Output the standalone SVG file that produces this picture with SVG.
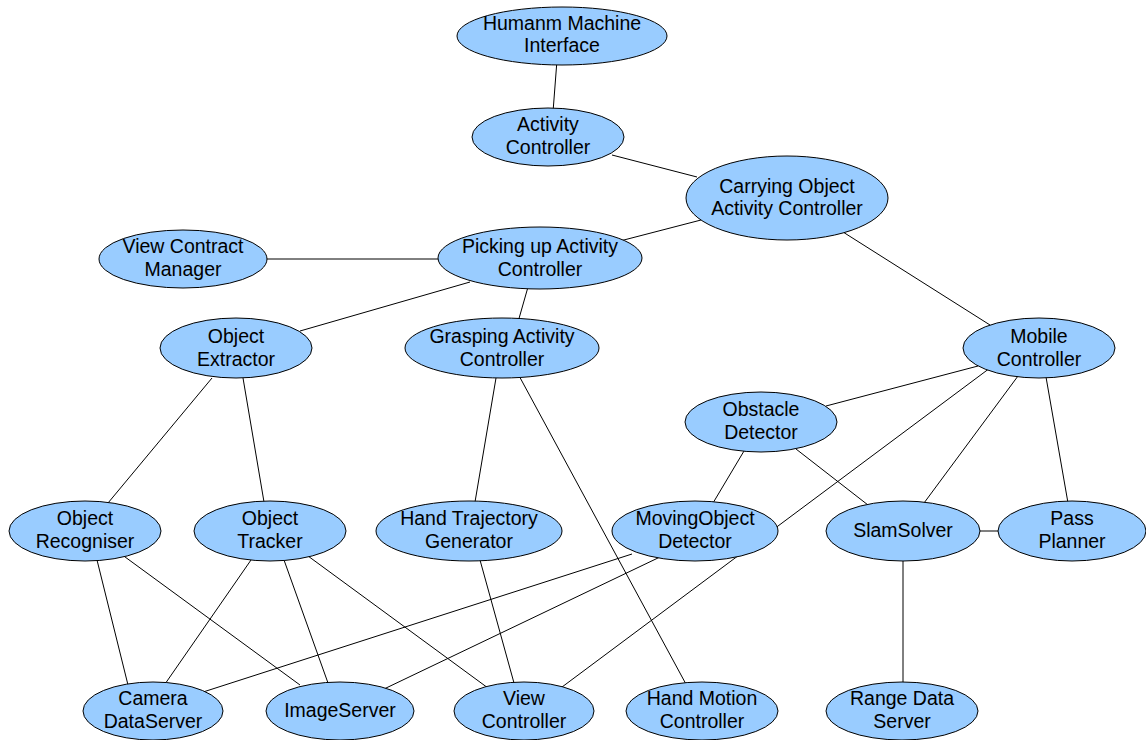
<svg xmlns="http://www.w3.org/2000/svg" width="1146" height="740" viewBox="0 0 1146 740">
  <style>
    .edge { stroke: #000; stroke-width: 1; fill: none; }
    .node ellipse { fill: #99CCFF; stroke: #000; stroke-width: 1; }
    .node text { font-family: "Liberation Sans", Arial, sans-serif; font-size: 19.5px; fill: #000; text-anchor: middle; }
  </style>
  <rect width="1146" height="740" fill="#fff"/>
  <g id="connectors" class="edge">
    <line x1="557" y1="60" x2="553" y2="112"/>
    <line x1="612" y1="155" x2="697" y2="177"/>
    <line x1="620" y1="241" x2="701" y2="220"/>
    <line x1="262" y1="259" x2="444" y2="259"/>
    <line x1="843" y1="232" x2="990" y2="325"/>
    <line x1="470" y1="282" x2="300" y2="331"/>
    <line x1="528" y1="287" x2="518" y2="322"/>
    <line x1="212" y1="378" x2="108" y2="503"/>
    <line x1="243" y1="378" x2="264" y2="502"/>
    <line x1="496" y1="378" x2="475" y2="502"/>
    <line x1="517" y1="372" x2="687" y2="686"/>
    <line x1="978" y1="366" x2="826" y2="406"/>
    <line x1="990" y1="368" x2="558" y2="690"/>
    <line x1="1018" y1="376" x2="924" y2="503"/>
    <line x1="1046" y1="377" x2="1068" y2="503"/>
    <line x1="744" y1="451" x2="713" y2="503"/>
    <line x1="796" y1="449" x2="868" y2="505"/>
    <line x1="978" y1="531" x2="1000" y2="531"/>
    <line x1="903" y1="560" x2="903" y2="683"/>
    <line x1="97" y1="560" x2="128" y2="685"/>
    <line x1="121" y1="554" x2="300" y2="685"/>
    <line x1="251" y1="560" x2="165" y2="684"/>
    <line x1="284" y1="560" x2="328" y2="683"/>
    <line x1="308" y1="556" x2="488" y2="688"/>
    <line x1="632" y1="554" x2="200" y2="693"/>
    <line x1="660" y1="557" x2="384" y2="689"/>
    <line x1="480" y1="560" x2="514" y2="683"/>
  </g>
  <g id="n-hmi" class="node">
    <ellipse cx="562" cy="36" rx="105" ry="29"/>
    <text x="562" y="30">Humanm Machine</text>
    <text x="562" y="52">Interface</text>
  </g>
  <g id="n-activity" class="node">
    <ellipse cx="548" cy="137" rx="76" ry="29"/>
    <text x="548" y="131">Activity</text>
    <text x="548" y="154">Controller</text>
  </g>
  <g id="n-carrying" class="node">
    <ellipse cx="787" cy="198" rx="101" ry="42"/>
    <text x="787" y="193">Carrying Object</text>
    <text x="787" y="215">Activity Controller</text>
  </g>
  <g id="n-viewcontract" class="node">
    <ellipse cx="183" cy="259" rx="84" ry="29"/>
    <text x="183" y="253">View Contract</text>
    <text x="183" y="276">Manager</text>
  </g>
  <g id="n-picking" class="node">
    <ellipse cx="540" cy="258" rx="102" ry="31"/>
    <text x="540" y="253">Picking up Activity</text>
    <text x="540" y="276">Controller</text>
  </g>
  <g id="n-extractor" class="node">
    <ellipse cx="236" cy="348" rx="76" ry="30"/>
    <text x="236" y="343">Object</text>
    <text x="236" y="366">Extractor</text>
  </g>
  <g id="n-grasping" class="node">
    <ellipse cx="502" cy="348" rx="97" ry="30"/>
    <text x="502" y="343">Grasping Activity</text>
    <text x="502" y="366">Controller</text>
  </g>
  <g id="n-mobile" class="node">
    <ellipse cx="1039" cy="348" rx="76" ry="30"/>
    <text x="1039" y="343">Mobile</text>
    <text x="1039" y="366">Controller</text>
  </g>
  <g id="n-obstacle" class="node">
    <ellipse cx="761" cy="422" rx="76" ry="30"/>
    <text x="761" y="416">Obstacle</text>
    <text x="761" y="439">Detector</text>
  </g>
  <g id="n-recogniser" class="node">
    <ellipse cx="85" cy="531" rx="76" ry="30"/>
    <text x="85" y="525">Object</text>
    <text x="85" y="548">Recogniser</text>
  </g>
  <g id="n-tracker" class="node">
    <ellipse cx="270" cy="531" rx="76" ry="30"/>
    <text x="270" y="525">Object</text>
    <text x="270" y="548">Tracker</text>
  </g>
  <g id="n-handtraj" class="node">
    <ellipse cx="469" cy="531" rx="93" ry="30"/>
    <text x="469" y="525">Hand Trajectory</text>
    <text x="469" y="548">Generator</text>
  </g>
  <g id="n-moving" class="node">
    <ellipse cx="695" cy="531" rx="83" ry="30"/>
    <text x="695" y="525">MovingObject</text>
    <text x="695" y="548">Detector</text>
  </g>
  <g id="n-slam" class="node">
    <ellipse cx="903" cy="531" rx="77" ry="30"/>
    <text x="903" y="537">SlamSolver</text>
  </g>
  <g id="n-pass" class="node">
    <ellipse cx="1072" cy="531" rx="74" ry="30"/>
    <text x="1072" y="525">Pass</text>
    <text x="1072" y="548">Planner</text>
  </g>
  <g id="n-camera" class="node">
    <ellipse cx="153" cy="711" rx="70" ry="29"/>
    <text x="153" y="705">Camera</text>
    <text x="153" y="728">DataServer</text>
  </g>
  <g id="n-image" class="node">
    <ellipse cx="340" cy="711" rx="74" ry="29"/>
    <text x="340" y="717">ImageServer</text>
  </g>
  <g id="n-viewctrl" class="node">
    <ellipse cx="524" cy="711" rx="70" ry="29"/>
    <text x="524" y="705">View</text>
    <text x="524" y="728">Controller</text>
  </g>
  <g id="n-handmotion" class="node">
    <ellipse cx="702" cy="711" rx="76" ry="29"/>
    <text x="702" y="705">Hand Motion</text>
    <text x="702" y="728">Controller</text>
  </g>
  <g id="n-range" class="node">
    <ellipse cx="902" cy="711" rx="76" ry="29"/>
    <text x="902" y="705">Range Data</text>
    <text x="902" y="728">Server</text>
  </g>
</svg>
